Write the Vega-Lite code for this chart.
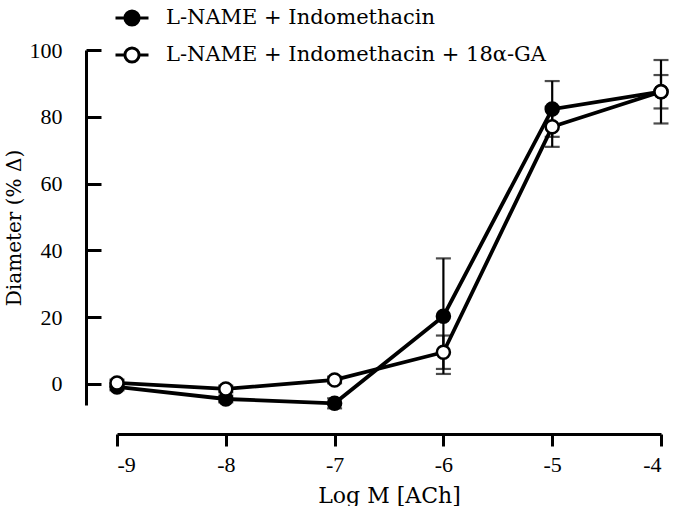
{
  "$schema": "https://vega.github.io/schema/vega-lite/v6.json",
  "width": 544,
  "height": 355,
  "padding": {"left": 4, "top": 0, "right": 0, "bottom": 0},
  "background": "white",
  "config": {
    "view": {"stroke": null},
    "font": "DejaVu Serif",
    "axis": {
      "domainColor": "black", "domainWidth": 3, "tickColor": "black", "tickWidth": 3,
      "labelFont": "Liberation Serif", "labelFontSize": 22, "labelColor": "black",
      "titleFont": "DejaVu Serif", "titleFontSize": 21, "titleColor": "black", "titleFontWeight": "normal",
      "grid": false
    }
  },
  "data": {"values": [
    {"series": "L-NAME + Indomethacin", "x": -9, "y": -0.9, "lo": -1.9, "hi": 0.1},
    {"series": "L-NAME + Indomethacin", "x": -8, "y": -4.5, "lo": -5.5, "hi": -3.5},
    {"series": "L-NAME + Indomethacin", "x": -7, "y": -5.8, "lo": -7.3, "hi": -4.3},
    {"series": "L-NAME + Indomethacin", "x": -6, "y": 20.3, "lo": 3.0, "hi": 37.6},
    {"series": "L-NAME + Indomethacin", "x": -5, "y": 82.3, "lo": 74.0, "hi": 90.7},
    {"series": "L-NAME + Indomethacin", "x": -4, "y": 87.5, "lo": 78.0, "hi": 97.0},
    {"series": "L-NAME + Indomethacin + 18α-GA", "x": -9, "y": 0.3, "lo": -0.7, "hi": 1.3},
    {"series": "L-NAME + Indomethacin + 18α-GA", "x": -8, "y": -1.5, "lo": -2.5, "hi": -0.5},
    {"series": "L-NAME + Indomethacin + 18α-GA", "x": -7, "y": 1.2, "lo": 0.2, "hi": 2.2},
    {"series": "L-NAME + Indomethacin + 18α-GA", "x": -6, "y": 9.5, "lo": 4.5, "hi": 14.5},
    {"series": "L-NAME + Indomethacin + 18α-GA", "x": -5, "y": 77.0, "lo": 71.0, "hi": 83.0},
    {"series": "L-NAME + Indomethacin + 18α-GA", "x": -4, "y": 87.5, "lo": 82.5, "hi": 92.5}
  ]},
  "layer": [
    {
      "mark": {"type": "line", "color": "black", "strokeWidth": 3.8, "clip": false},
      "encoding": {
        "x": {"field": "x", "type": "quantitative", "scale": {"domain": [-9, -4], "nice": false, "zero": false},
          "axis": {"values": [-9, -8, -7, -6, -5, -4], "offset": 29, "tickSize": 12,
            "labelExpr": "datum.value < 0 ? '-' + abs(datum.value) : datum.label",
            "labelPadding": 8, "title": "Log M [ACh]", "titleFontSize": 22, "titlePadding": 10}},
        "y": {"field": "y", "type": "quantitative", "scale": {"domain": [-6.3, 100], "nice": false, "zero": false},
          "axis": {"values": [0, 10, 20, 30, 40, 50, 60, 70, 80, 90, 100], "offset": 31,
            "tickSize": {"condition": {"test": "datum.value % 20 === 0", "value": -15}, "value": -9},
            "labelExpr": "datum.value % 20 === 0 ? datum.label : ''",
            "labelPadding": 39, "title": "Diameter (% Δ)", "titleFont": "DejaVu Serif", "titleFontSize": 20, "titlePadding": 5}},
        "detail": {"field": "series"}
      }
    },
    {
      "mark": {"type": "rule", "color": "black", "strokeWidth": 2.2, "clip": false},
      "encoding": {
        "x": {"field": "x", "type": "quantitative"},
        "y": {"field": "lo", "type": "quantitative"},
        "y2": {"field": "hi"}
      }
    },
    {
      "mark": {"type": "tick", "color": "black", "thickness": 2.2, "size": 15, "orient": "horizontal", "clip": false},
      "encoding": {
        "x": {"field": "x", "type": "quantitative"},
        "y": {"field": "lo", "type": "quantitative"}
      }
    },
    {
      "mark": {"type": "tick", "color": "black", "thickness": 2.2, "size": 15, "orient": "horizontal", "clip": false},
      "encoding": {
        "x": {"field": "x", "type": "quantitative"},
        "y": {"field": "hi", "type": "quantitative"}
      }
    },
    {
      "mark": {"type": "point", "shape": "circle", "filled": true, "size": 170, "stroke": "black", "strokeWidth": 2.5, "opacity": 1, "clip": false},
      "encoding": {
        "x": {"field": "x", "type": "quantitative"},
        "y": {"field": "y", "type": "quantitative"},
        "fill": {"field": "series", "type": "nominal",
          "scale": {"domain": ["L-NAME + Indomethacin", "L-NAME + Indomethacin + 18α-GA"], "range": ["black", "white"]},
          "legend": {"title": null, "orient": "none", "legendX": -3, "legendY": -50,
            "symbolType": "M-1,0H-0.43M0.43,0H1M0.43,0A0.43,0.43 0 1,1 -0.43,0A0.43,0.43 0 1,1 0.43,0Z",
            "symbolSize": 1089, "symbolStrokeColor": "black", "symbolStrokeWidth": 3, "symbolOpacity": 1,
            "labelFont": "DejaVu Serif", "labelFontSize": 21, "labelColor": "black", "labelLimit": 600, "labelOffset": 16, "rowPadding": 5}}
      }
    }
  ]
}
